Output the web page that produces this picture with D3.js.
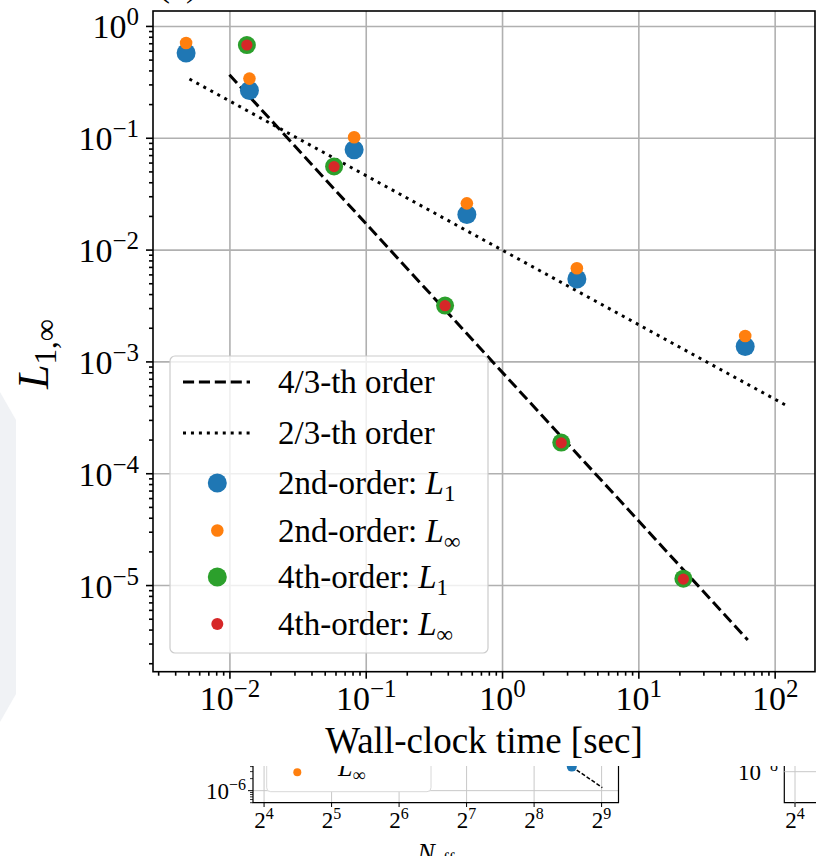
<!DOCTYPE html>
<html>
<head>
<meta charset="utf-8">
<script src="https://cdn.jsdelivr.net/npm/d3@7"></script>
<style>
body { margin: 0; background: #fff; }
svg { display: block; font-family: "Liberation Serif", serif; }
</style>
</head>
<body>
<script>
// wall-clock time vs error
const time2nd = [0.00481, 0.01402, 0.0822, 0.552, 3.54, 60.8];
const l1Err2nd = [0.572, 0.265, 0.0781, 0.0206, 0.00545, 0.00136];
const linfErr2nd = [0.703, 0.338, 0.101, 0.0259, 0.00681, 0.00169];
const time4th = [0.01343, 0.0586, 0.382, 2.72, 21.4];
const l1Err4th = [0.675, 0.0554, 0.00316, 0.000188, 0.0000114];
const linfErr4th = [0.675, 0.0552, 0.00315, 0.000187, 0.0000113];
// reference slopes
const refTime43 = [0.01, 63.5];
const refErr43 = [0.366, 0.00000323];
const refTime23 = [0.00509, 119.4];
const refErr23 = [0.335, 0.000409];
const xTickExps = [-2, -1, 0, 1, 2];
const yTickExps = [0, -1, -2, -3, -4, -5];
const legendText = ['4/3-th order', '2/3-th order', '2nd-order: ', '2nd-order: ', '4th-order: ', '4th-order: '];
const legendSub = [null, null, '1', '∞', '1', '∞'];
// pieces of the neighbouring panel peeking in below
const fragTickExps = [4, 5, 6, 7, 8, 9];
const fragRefN = [377, 516];
const fragRefErr = [0.000004, 0.00000119];

const W = 816, H = 856;
const margin = { left: 153, top: 11 };
const width = 662, height = 660.7;

const x = d3.scaleLog().domain([0.00275, 197.7]).range([0, width]);
const y = d3.scaleLog().domain([1.68e-6, 1.36]).range([height, 0]);

const svg = d3.select('body').append('svg').attr('width', W).attr('height', H);

// faint watermark shape on the left edge
svg.append('polygon')
    .attr('points', '0,392 16,420 16,694 0,722')
    .attr('fill', '#f0f2f5');

svg.append('text').attr('x', 178).attr('y', -4).attr('text-anchor', 'middle')
    .attr('font-size', 36).text('(a)');

const g = svg.append('g').attr('transform', 'translate(' + margin.left + ',' + margin.top + ')');

function minors(lo, hi) {
    const out = [];
    for (let e = lo; e <= hi; e++) for (let k = 2; k <= 9; k++) out.push(k * Math.pow(10, e));
    return out;
}
const xMajor = xTickExps.map(e => Math.pow(10, e));
const yMajor = yTickExps.map(e => Math.pow(10, e));
const xMinor = minors(-3, 2).filter(v => v > x.domain()[0] && v < x.domain()[1]);
const yMinor = minors(-6, 0).filter(v => v > y.domain()[0] && v < y.domain()[1]);

// grid
g.append('g').attr('class', 'grid')
    .call(d3.axisBottom(x).tickValues(xMajor).tickSize(height).tickFormat(''))
    .call(s => s.select('.domain').remove());
g.append('g').attr('class', 'grid')
    .call(d3.axisLeft(y).tickValues(yMajor).tickSize(-width).tickFormat(''))
    .call(s => s.select('.domain').remove());
g.selectAll('.grid line').attr('stroke', '#b0b0b0').attr('stroke-width', 1.6);

// reference lines
const line = d3.line().x(d => x(d[0])).y(d => y(d[1]));
g.append('path').attr('d', line(d3.zip(refTime43, refErr43)))
    .attr('fill', 'none').attr('stroke', '#000').attr('stroke-width', 3).attr('stroke-dasharray', '11.1,4.8');
g.append('path').attr('d', line(d3.zip(refTime23, refErr23)))
    .attr('fill', 'none').attr('stroke', '#000').attr('stroke-width', 3).attr('stroke-dasharray', '3,4.95');

function dots(xs, ys, r, color) {
    g.append('g').selectAll('circle').data(d3.zip(xs, ys)).join('circle')
        .attr('cx', d => x(d[0])).attr('cy', d => y(d[1])).attr('r', r).attr('fill', color);
}
dots(time2nd, l1Err2nd, 9.5, '#1f77b4');
dots(time2nd, linfErr2nd, 6.3, '#ff7f0e');
dots(time4th, l1Err4th, 9, '#2ca02c');
dots(time4th, linfErr4th, 5.6, '#d62728');

// legend
const lg = svg.append('g');
lg.append('rect').attr('x', 170).attr('y', 356).attr('width', 318).attr('height', 297).attr('rx', 5)
    .attr('fill', '#fff').attr('fill-opacity', 0.8).attr('stroke', '#cccccc').attr('stroke-width', 1.2);
const rowY = [382, 433, 483, 530.5, 577, 624];
const handleColor = [null, null, '#1f77b4', '#ff7f0e', '#2ca02c', '#d62728'];
const handleR = [0, 0, 9.5, 6.3, 9.5, 6];
legendText.forEach((t, i) => {
    if (i === 0 || i === 1) {
        lg.append('line').attr('x1', 183).attr('x2', 250).attr('y1', rowY[i]).attr('y2', rowY[i])
            .attr('stroke', '#000').attr('stroke-width', 3)
            .attr('stroke-dasharray', i === 0 ? '11.1,4.8' : '3,4.95');
    } else {
        lg.append('circle').attr('cx', 217.3).attr('cy', rowY[i]).attr('r', handleR[i]).attr('fill', handleColor[i]);
    }
    const tx = lg.append('text').attr('x', 278).attr('y', rowY[i] + 11).attr('font-size', 33);
    tx.append('tspan').text(t);
    if (legendSub[i]) {
        tx.append('tspan').attr('font-style', 'italic').text('L');
        tx.append('tspan').attr('font-size', 23).attr('dy', 7).text(legendSub[i]);
    }
});

// frame
g.append('rect').attr('width', width).attr('height', height)
    .attr('fill', 'none').attr('stroke', '#000').attr('stroke-width', 1.6);

function powLabel(sel, base, exp, supSize, raise) {
    sel.append('tspan').text(base);
    sel.append('tspan').attr('font-size', supSize).attr('dy', -raise)
        .text(exp < 0 ? '\u2212' + (-exp) : exp);
}

// x axis
const xAx = g.append('g').attr('transform', 'translate(0,' + height + ')');
xAx.append('g').call(d3.axisBottom(x).tickValues(xMinor).tickSize(4).tickFormat(''));
xAx.append('g').call(d3.axisBottom(x).tickValues(xMajor).tickSize(7))
    .call(s => s.selectAll('.tick text').remove())
    .selectAll('.tick').append('text')
    .attr('y', 38).attr('text-anchor', 'middle').attr('fill', '#000').attr('font-size', 34)
    .attr('font-family', '"Liberation Serif", serif')
    .each(function(d) { powLabel(d3.select(this), '10', Math.round(Math.log10(d)), 25, 13); });

// y axis
const yAx = g.append('g');
yAx.append('g').call(d3.axisLeft(y).tickValues(yMinor).tickSize(4).tickFormat(''));
yAx.append('g').call(d3.axisLeft(y).tickValues(yMajor).tickSize(7))
    .call(s => s.selectAll('.tick text').remove())
    .selectAll('.tick').append('text')
    .attr('x', -14).attr('y', 12).attr('text-anchor', 'end').attr('fill', '#000').attr('font-size', 34)
    .attr('font-family', '"Liberation Serif", serif')
    .each(function(d) { powLabel(d3.select(this), '10', Math.round(Math.log10(d)), 25, 13); });

g.selectAll('.domain').remove();
g.selectAll('.tick line').attr('stroke-width', 1.6);

// axis titles
svg.append('text').attr('x', 484).attr('y', 753).attr('text-anchor', 'middle')
    .attr('font-size', 37).text('Wall-clock time [sec]');
const yl = svg.append('text').attr('transform', 'translate(48,389) rotate(-90)')
    .attr('font-size', 44);
yl.append('tspan').attr('font-style', 'italic').text('L');
yl.append('tspan').attr('font-size', 31).attr('dy', 8).text('1,∞');

// neighbouring panels, clipped by the main figure above
svg.append('clipPath').attr('id', 'fragClip').append('rect')
    .attr('x', 0).attr('y', 766).attr('width', W).attr('height', 90);
const fg = svg.append('g').attr('clip-path', 'url(#fragClip)');
const fx = d3.scaleLog().base(2).domain([14.28, 609]).range([253, 618.5]);
const fy = d3.scaleLog().domain([5e-7, 1e-5]).range([802.7, 750.7]);
const fMajor = fragTickExps.map(e => Math.pow(2, e));
fg.append('g').selectAll('line').data(fMajor).join('line')
    .attr('x1', d => fx(d)).attr('x2', d => fx(d)).attr('y1', 740).attr('y2', 802.7)
    .attr('stroke', '#c8c8c8').attr('stroke-width', 1);
fg.append('line').attr('x1', 253).attr('x2', 618.5).attr('y1', fy(1e-6)).attr('y2', fy(1e-6))
    .attr('stroke', '#c8c8c8').attr('stroke-width', 1);
fg.append('path').attr('d', d3.line().x(d => fx(d[0])).y(d => fy(d[1]))(d3.zip(fragRefN, fragRefErr)))
    .attr('fill', 'none').attr('stroke', '#000').attr('stroke-width', 1.5).attr('stroke-dasharray', '4,2');
fg.append('circle').attr('cx', fx(fragRefN[0])).attr('cy', fy(fragRefErr[0])).attr('r', 5).attr('fill', '#1f77b4');
fg.append('rect').attr('x', 266.7).attr('y', 700).attr('width', 164.3).attr('height', 91.7).attr('rx', 4)
    .attr('fill', '#fff').attr('stroke', '#d8d8d8').attr('stroke-width', 1);
fg.append('circle').attr('cx', 297.3).attr('cy', 772.3).attr('r', 4).attr('fill', '#ff7f0e');
const fl = fg.append('text').attr('x', 338).attr('y', 776).attr('font-size', 26);
fl.append('tspan').attr('font-style', 'italic').text('L');
fl.append('tspan').attr('font-size', 18).attr('dy', 5).text('∞');
fg.append('path').attr('d', 'M253,740V802.7H618.5V740').attr('fill', 'none').attr('stroke', '#000').attr('stroke-width', 1.2);
fg.append('g').selectAll('line').data(fMajor).join('line')
    .attr('x1', d => fx(d)).attr('x2', d => fx(d)).attr('y1', 802.7).attr('y2', 807)
    .attr('stroke', '#000').attr('stroke-width', 1);
fg.append('g').selectAll('line').data(minors(-7, -6).filter(v => v >= 5e-7 && v <= 1e-5)).join('line')
    .attr('x1', 250).attr('x2', 253).attr('y1', d => fy(d)).attr('y2', d => fy(d))
    .attr('stroke', '#000').attr('stroke-width', 0.8);
fg.append('line').attr('x1', 248).attr('x2', 253).attr('y1', fy(1e-6)).attr('y2', fy(1e-6))
    .attr('stroke', '#000').attr('stroke-width', 1);
fg.append('g').selectAll('text').data(fMajor).join('text')
    .attr('x', d => fx(d)).attr('y', 828).attr('text-anchor', 'middle').attr('font-size', 23)
    .each(function(d) { powLabel(d3.select(this), '2', Math.round(Math.log2(d)), 16, 9); });
const f6 = fg.append('text').attr('x', 246).attr('y', 799).attr('text-anchor', 'end').attr('font-size', 23);
powLabel(f6, '10', -6, 16, 9);
const ne = fg.append('text').attr('x', 436).attr('y', 861).attr('text-anchor', 'middle').attr('font-size', 26);
ne.append('tspan').attr('font-style', 'italic').text('N');
ne.append('tspan').attr('font-size', 18).attr('dy', 5).text('eff');

// right-hand neighbour
fg.append('path').attr('d', 'M784.3,740V802.7H816').attr('fill', 'none').attr('stroke', '#000').attr('stroke-width', 1.2);
fg.append('line').attr('x1', 784.3).attr('x2', 816).attr('y1', 771.7).attr('y2', 771.7).attr('stroke', '#c8c8c8');
fg.append('line').attr('x1', 795).attr('x2', 795).attr('y1', 740).attr('y2', 802.7).attr('stroke', '#c8c8c8');
fg.append('line').attr('x1', 795).attr('x2', 795).attr('y1', 802.7).attr('y2', 807).attr('stroke', '#000');
const f8 = fg.append('text').attr('x', 778).attr('y', 780).attr('text-anchor', 'end').attr('font-size', 23);
powLabel(f8, '10', -8, 16, 9);
const f24 = fg.append('text').attr('x', 795).attr('y', 828).attr('text-anchor', 'middle').attr('font-size', 23);
powLabel(f24, '2', 4, 16, 9);
</script>
</body>
</html>
